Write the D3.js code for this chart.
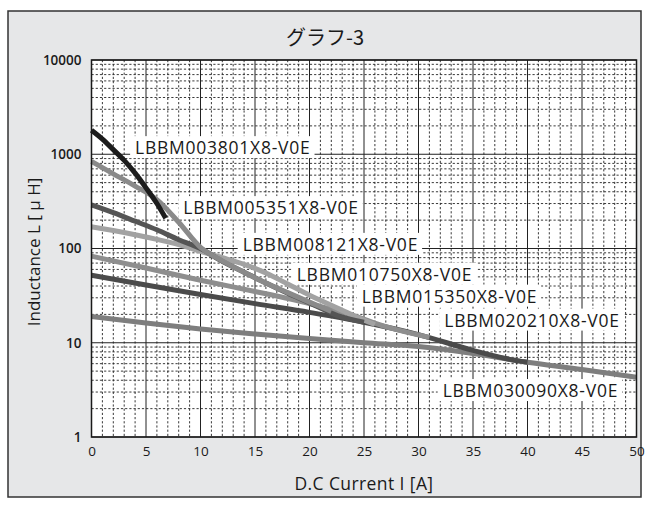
<!DOCTYPE html>
<html><head><meta charset="utf-8">
<script src="https://cdn.jsdelivr.net/npm/d3@7"></script>
<style>body{margin:0;background:#fff}</style>
</head><body>
<svg id="c" width="649" height="506"></svg>
<script>
// ---------- data ----------
const titleText = "グラフ-3";
const xTitle = "D.C Current I [A]";
const yTitle = "Inductance L [ μ H]";
const xTicks = [0,5,10,15,20,25,30,35,40,45,50];
const yTicks = [1,10,100,1000,10000];
const seriesNames = ["LBBM003801X8-V0E","LBBM005351X8-V0E","LBBM008121X8-V0E","LBBM010750X8-V0E","LBBM015350X8-V0E","LBBM020210X8-V0E","LBBM030090X8-V0E"];
const s003801 = [[0,1800],[1,1450],[2,1120],[3,860],[4,630],[5,440],[6,300],[6.8,210]];
const s005351 = [[0,840],[2,620],[4,460],[6,330],[8,190],[10,103],[12,74],[14,56],[16,43],[18,34],[20,27],[22,21.5]];
const s008121 = [[0,290],[2,240],[4,195],[6,158],[8,124],[10,100],[12,73],[14,56],[16,43],[18,33.5],[20,26.5],[22.8,19],[25,16.5]];
const s010750 = [[0,170],[2,155],[4,140],[6,125],[8,110],[10,93],[12,80],[14,68],[16,55],[18,42],[20,32],[22,25],[24,19.5],[26,15.6]];
const s015350 = [[0,83],[5,62],[10,46],[15,35],[20,26],[24,19.5],[27,14.8],[31,11.4]];
const s020210 = [[0,52],[5,41],[10,32.5],[15,26],[20,21],[25,16.5],[30,12.2],[35,8.3],[38,6.8],[40,6.2]];
const s030090 = [[0,19],[5,16.2],[10,14],[15,12.4],[20,11.1],[25,10],[30,9.1],[35,7.7],[40,6.2],[45,5.2],[50,4.3]];
const seriesValues = [s003801,s005351,s008121,s010750,s015350,s020210,s030090];
// label anchors in data units (left x, centre L)
const labelAnchors = [[4.0,1190],[8.42,275],[13.87,112],[18.83,54],[24.79,31.6],[32.37,17.6],[32.22,3.15]];

// ---------- styles ----------
const colors = ["#1c1c1c","#8a8a8a","#555555","#a2a2a2","#8e8e8e","#4b4b4b","#7e7e7e"];
const drawOrder = [6,5,4,3,2,1,0];
const font = "'Open Sans', 'Noto Sans', sans-serif";

const svg = d3.select("#c");
const L = 91.5, R = 636.5, T = 60, B = 437;

svg.append("rect").attr("x",8).attr("y",11).attr("width",633).attr("height",486)
  .attr("fill","#e6e7e8").attr("stroke","#333").attr("stroke-width",1.5);

const x = d3.scaleLinear().domain([0,50]).range([L,R]);
const y = d3.scaleLog().domain([1,10000]).range([B,T]);

svg.append("rect").attr("x",L).attr("y",T).attr("width",R-L).attr("height",B-T).attr("fill","#fff");

const grid = svg.append("g");
d3.range(0,51,1).filter(v=>v%5!==0).forEach(v=>{
  grid.append("line").attr("x1",x(v)).attr("x2",x(v)).attr("y1",T).attr("y2",B)
   .attr("stroke","#222").attr("stroke-width",0.9).attr("stroke-dasharray","2.2,2");
});
[1,10,100,1000].forEach(d=>{
  for(let k=2;k<=9;k++){
    grid.append("line").attr("x1",L).attr("x2",R).attr("y1",y(d*k)).attr("y2",y(d*k))
     .attr("stroke","#222").attr("stroke-width",0.9).attr("stroke-dasharray","2.2,2");
  }
});
xTicks.forEach(v=>{
  grid.append("line").attr("x1",x(v)).attr("x2",x(v)).attr("y1",T).attr("y2",B)
   .attr("stroke","#222").attr("stroke-width",1);
});
yTicks.forEach(v=>{
  grid.append("line").attr("x1",L).attr("x2",R).attr("y1",y(v)).attr("y2",y(v))
   .attr("stroke","#222").attr("stroke-width",1);
});

// labels with white backgrounds
const labG = svg.append("g");
seriesNames.forEach((n,i)=>{
  const t = labG.append("text").attr("x",x(labelAnchors[i][0])).attr("y",y(labelAnchors[i][1]))
    .attr("dominant-baseline","central").attr("font-family",font).attr("font-size",17.5)
    .attr("letter-spacing",0.75).attr("font-weight",500).attr("fill","#1a1a1a").text(n);
  const bb = t.node().getBBox();
  labG.insert("rect", "text").attr("x",bb.x-5).attr("y",bb.y+1).attr("width",bb.width+9).attr("height",bb.height-2).attr("fill","#fff");
});

// lines
const line = d3.line().x(d=>x(d[0])).y(d=>y(d[1])).curve(d3.curveMonotoneX);
drawOrder.forEach(i=>{
  svg.append("path").datum(seriesValues[i]).attr("d",line).attr("fill","none")
    .attr("stroke",colors[i]).attr("stroke-width",5).attr("stroke-linejoin","round");
});

svg.append("rect").attr("x",L).attr("y",T).attr("width",R-L).attr("height",B-T)
  .attr("fill","none").attr("stroke","#1a1a1a").attr("stroke-width",1.5);

// axes
const xa = svg.append("g").attr("transform",`translate(0,${B+6})`)
  .call(d3.axisBottom(x).tickValues(xTicks).tickSize(0).tickFormat(d3.format("d")));
xa.select(".domain").remove();
xa.selectAll("text").attr("font-family",font).attr("font-size",13.5).attr("font-weight",500).attr("fill","#1a1a1a");

const ya = svg.append("g").attr("transform",`translate(${L-7},0)`)
  .call(d3.axisLeft(y).tickValues(yTicks).tickSize(0).tickFormat(d3.format("d")));
ya.select(".domain").remove();
ya.selectAll("text").attr("font-family",font).attr("font-size",13.5).attr("font-weight",600).attr("fill","#1a1a1a");

svg.append("text").attr("x",325).attr("y",36).attr("text-anchor","middle").attr("dominant-baseline","central")
  .attr("font-family","'Noto Sans CJK JP', sans-serif").attr("font-size",20).attr("fill","#1a1a1a").text(titleText);
svg.append("text").attr("x",(L+R)/2).attr("y",483).attr("text-anchor","middle").attr("dominant-baseline","central")
  .attr("font-family",font).attr("font-size",17.5).attr("letter-spacing",0.4).attr("font-weight",500).attr("fill","#1a1a1a").text(xTitle);
svg.append("text").attr("transform",`translate(33,252) rotate(-90)`).attr("text-anchor","middle").attr("dominant-baseline","central")
  .attr("font-family",font).attr("font-size",17).attr("font-weight",500).attr("fill","#1a1a1a").text(yTitle);
</script>
</body></html>
